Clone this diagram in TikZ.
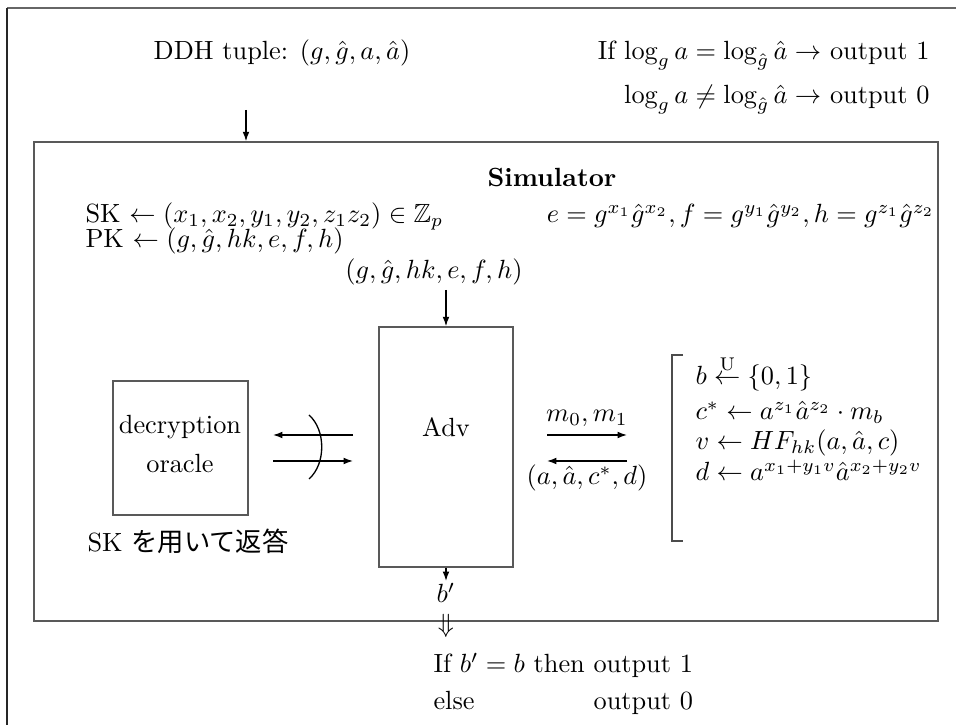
\documentclass[tikz,border=0pt]{standalone}
\usepackage{amsmath,amssymb}
\usepackage{fontspec}
\newfontfamily\jp{Noto Sans CJK JP}
\usetikzlibrary{arrows.meta,fit}
\begin{document}
\begin{tikzpicture}[x=0.38pt,y=-0.38pt,
  box/.style={draw=black!65, line width=0.55pt, inner sep=0pt},
  arr/.style={-{Latex[length=3.6pt,width=2.6pt]}, line width=0.5pt},
  tw/.style={inner sep=0pt, anchor=base west},
  te/.style={inner sep=0pt, anchor=base east},
  tc/.style={inner sep=0pt, anchor=base}]
\useasboundingbox (0,0) rectangle (956,725);
% outer frame (cropped)
\draw[black!60, line width=0.6pt] (7,8) -- (960,8);
\draw[black!85, line width=0.6pt] (7,8) -- (7,730);
% boxes
\node[box, fit={(34,142) (938,621)}] (sim) {};
\node[box, fit={(379,327) (513,567)}] (adv) {};
\node[box, fit={(113,381) (248,515)}] (orc) {};
% top texts
\node[tc] (ddh) at (282,60) {DDH tuple: $(g,\hat g,a,\hat a)$};
\node[te] (if1) at (930,60) {If $\log_g a = \log_{\hat g}\hat a \rightarrow$ output 1};
\node[te] (if2) at (930,104) {$\log_g a \neq \log_{\hat g}\hat a \rightarrow$ output 0};
\coordinate (ddhs) at (246,110);
\draw[arr] (ddhs) -- (ddhs |- sim.north);
% simulator contents
\node[tc] (simt) at (552,187) {\textbf{Simulator}};
\node[tw] (sk) at (85,223) {SK $\leftarrow (x_1,x_2,y_1,y_2,z_1z_2)\in\mathbb{Z}_p$};
\node[tw] (pk) at (85,248) {PK $\leftarrow (g,\hat g,hk,e,f,h)$};
\node[te] (efh) at (935,223) {$e=g^{x_1}\hat g^{x_2}, f=g^{y_1}\hat g^{y_2}, h=g^{z_1}\hat g^{z_2}$};
\node[tc] (pkl) at (434,279) {$(g,\hat g,hk,e,f,h)$};
\coordinate (pkin) at (446,290);
\draw[arr] (pkin) -- (adv.north);
\node[tc] (advt) at (446,437) {Adv};
% oracle
\node[tc] (dec) at (180,434) {decryption};
\node[tc] (ora) at (180,473) {oracle};
\node[tw] (skj) at (87,552) {SK {\jp を用いて返答}};
\coordinate (o1s) at (353,435);
\coordinate (o1e) at (273,435);
\coordinate (o2s) at (273,461);
\coordinate (o2e) at (353,461);
\draw[arr] (o1s) -- (o1e);
\draw[arr] (o2s) -- (o2e);
\coordinate (arcA) at (309,415);
\coordinate (arcB) at (309,479);
\draw[line width=0.5pt] (arcA) .. controls (326,430) and (326,464) .. (arcB);
% challenge arrows
\coordinate (m0s) at (547,435);
\coordinate (m0e) at (627,435);
\coordinate (cs) at (627,461);
\coordinate (ce) at (547,461);
\draw[arr] (m0s) -- (m0e);
\draw[arr] (cs) -- (ce);
\node[tc] (ml) at (587,422) {$m_0,m_1$};
\node[tc] (cl) at (587,485) {$(a,\hat a,c^*,d)$};
% bracket
\coordinate (brt) at (683,355);
\coordinate (brb) at (683,541);
\draw[black!70, line width=0.55pt] (brt) -- (672,355) -- (672,541) -- (brb);
\node[tw] (l1) at (695,385) {$b \stackrel{\mathrm{U}}{\leftarrow} \{0,1\}$};
\node[tw] (l2) at (695,420) {$c^* \leftarrow a^{z_1}\hat a^{z_2}\cdot m_b$};
\node[tw] (l3) at (695,450) {$v \leftarrow HF_{hk}(a,\hat a,c)$};
\node[tw] (l4) at (695,481) {$d \leftarrow a^{x_1+y_1v}\hat a^{x_2+y_2v}$};
% output
\coordinate (bpe) at (446,581);
\draw[arr] (adv.south) -- (bpe);
\node[tc] (bp) at (446,603) {$b'$};
\node (dd) at (446,626) {$\Downarrow$};
\node[tw] (o1) at (433,673) {If $b'=b$ then output 1};
\coordinate (o2y) at (0,710);
\node[tw] (els) at (433,710) {else};
\node[te] (o0) at (o1.east |- o2y) {output 0};
\end{tikzpicture}
\end{document}
